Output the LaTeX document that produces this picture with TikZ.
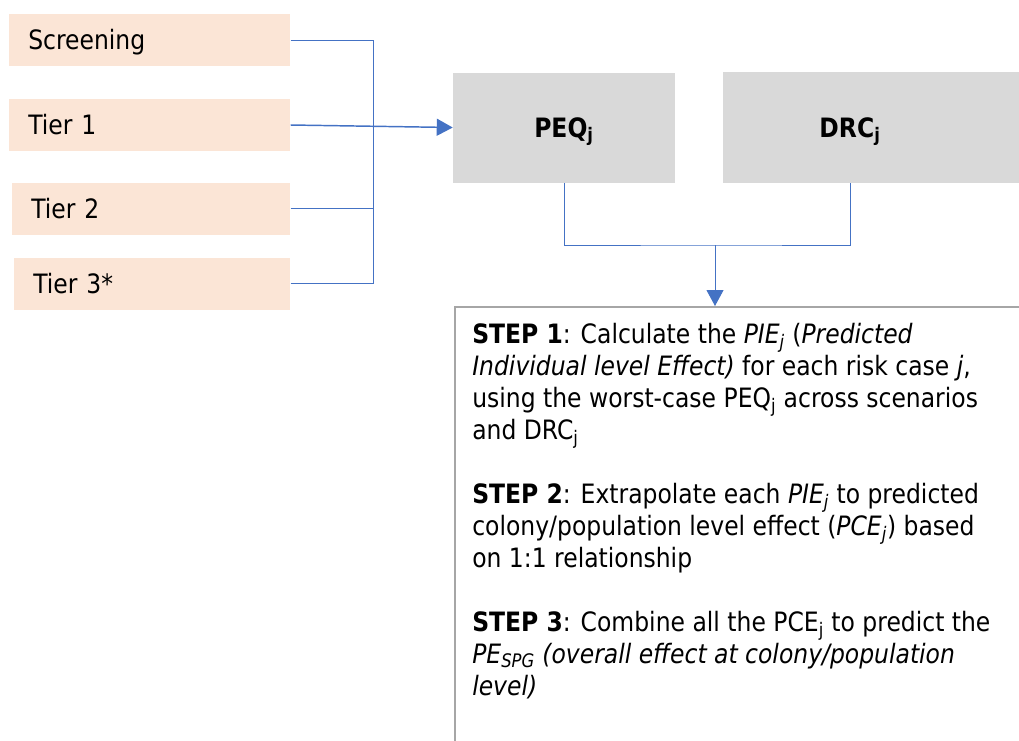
\documentclass[tikz,border=0pt]{standalone}
\usepackage{fontspec}
\setmainfont{DejaVu Sans}[FakeStretch=0.88]
\usetikzlibrary{arrows.meta,positioning,calc,backgrounds}
\definecolor{peach}{HTML}{FBE5D6}
\definecolor{qgray}{HTML}{D9D9D9}
\definecolor{link}{HTML}{4472C4}
\definecolor{framegray}{HTML}{A6A6A6}
\tikzset{
  >={Triangle[length=12pt,width=12.75pt]},
  tierbox/.style={fill=peach,anchor=west,minimum height=39pt,inner xsep=14.25pt,text height=14.5pt,text depth=0pt,align=left,font=\fontsize{20}{24}\selectfont},
  qbox/.style={fill=qgray,minimum width=166.5pt,minimum height=82.5pt,text height=14.5pt,text depth=0pt,font=\bfseries\fontsize{20}{24}\selectfont},
  frame/.style={draw=framegray,line width=1.5pt},
  conn/.style={draw=link,line width=0.75pt},
  arr/.style={conn,->},
  steptext/.style={inner sep=0pt,align=left,font=\fontsize{20}{24}\selectfont},
}

\begin{document}
\begin{tikzpicture}[x=0.75pt,y=-0.75pt]
\clip (0,0) rectangle (1019,740);
% tiers
\node[tierbox,text width=182.25pt] (scr) at (9,40) {Screening};
\node[tierbox,text width=182.25pt] (t1) at (9,125) {Tier 1};
\node[tierbox,text width=180pt] (t2) at (12,208.5) {Tier 2};
\node[tierbox,text width=178.5pt] (t3) at (14,283.5) {Tier 3*};
% quantities
\node[qbox] (peq) at (564,127.5) {PEQ\textsubscript{j}};
\node[qbox,fill=none,minimum width=190.5pt] (drc) at (850,127.5) {DRC\textsubscript{j}};
% steps
\node[frame,anchor=north west,minimum width=480pt,minimum height=360pt] (frm) at (454,306) {};
\begin{scope}[on background layer]
\fill[qgray] (drc.north west) rectangle (drc.south -| frm.east);
\end{scope}
\node[steptext,anchor=north west] (steps) at (472,323) {%
\textbf{STEP 1}: Calculate the \textit{PIE\textsubscript{j}} (\textit{Predicted}\\
\textit{Individual level Effect)} for each risk case \textit{j},\\
using the worst-case PEQ\textsubscript{j} across scenarios\\
and DRC\textsubscript{j}\\[24pt]
\textbf{STEP 2}: Extrapolate each \textit{PIE\textsubscript{j}} to predicted\\
colony/population level effect (\textit{PCE\textsubscript{j}}) based\\
on 1:1 relationship\\[24pt]
\textbf{STEP 3}: Combine all the PCE\textsubscript{j} to predict the\\
\textit{PE\textsubscript{SPG} (overall effect at colony/population}\\
\textit{level)}};
% connectors
\coordinate (bus) at (373,126);
\draw[conn] (scr.east) -| (bus);
\draw[conn] (t2.east) -| (bus);
\draw[conn] (t3.east) -| (bus);
\draw[arr,line width=1.1pt] (t1.east) -- (peq.west);
\coordinate (join) at (715,245);
\draw[conn] (peq.south) |- (join) -| (drc.south);
\draw[arr] (join) -- (join |- frm.north);
\end{tikzpicture}
\end{document}
